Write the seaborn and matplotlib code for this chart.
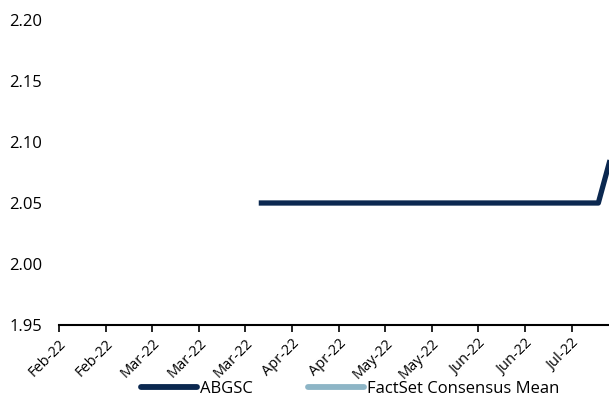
import matplotlib
matplotlib.use("Agg")
import matplotlib.pyplot as plt
import matplotlib.dates as mdates
import numpy as np
import pandas as pd
import seaborn as sns

# Estimate series (EPS, local currency)
abgsc_dates = ["2022-04-02", "2022-07-13", "2022-07-18"]
abgsc_values = [2.05, 2.05, 2.10]
factset_dates = ["2022-04-02", "2022-07-13"]
factset_values = [np.nan, np.nan]

y_ticks = [1.95, 2.00, 2.05, 2.10, 2.15, 2.20]
x_start = "2022-02-01"
x_end = "2022-07-16 05:00"

navy = "#0b2850"
light_blue = "#8db5c6"

sns.set_theme(style="white")
plt.rcParams["font.family"] = ["Open Sans", "DejaVu Sans"]
plt.rcParams["text.color"] = "black"
plt.rcParams["xtick.color"] = "black"
plt.rcParams["ytick.color"] = "black"

fig = plt.figure(figsize=(6.09, 3.97), dpi=100)
ax = fig.add_axes([59 / 609, 72 / 397, 1 - 59 / 609, (325 - 20) / 397])

abgsc = pd.DataFrame({"date": pd.to_datetime(abgsc_dates), "value": abgsc_values})
factset = pd.DataFrame({"date": pd.to_datetime(factset_dates), "value": factset_values})

sns.lineplot(data=abgsc, x="date", y="value", ax=ax, color=navy, linewidth=3.8,
             label="ABGSC", solid_capstyle="butt")
sns.lineplot(data=factset, x="date", y="value", ax=ax, color=light_blue, linewidth=3.8,
             label="FactSet Consensus Mean")

ax.set_xlim(pd.Timestamp(x_start), pd.Timestamp(x_end))
ax.set_ylim(y_ticks[0], y_ticks[-1])
ax.set_yticks(y_ticks)
ax.set_yticklabels([f"{v:.2f}" for v in y_ticks], fontsize=12)
ax.tick_params(axis="y", length=0, pad=12)

tick_dates = pd.date_range(x_start, periods=12, freq="14D")
ax.set_xticks(tick_dates)
ax.xaxis.set_major_formatter(mdates.DateFormatter("%b-%y"))
for lbl in ax.get_xticklabels():
    lbl.set_rotation(45)
    lbl.set_ha("right")
    lbl.set_rotation_mode("anchor")
    lbl.set_fontsize(10.5)
ax.tick_params(axis="x", direction="out", length=5, width=1.2, color="black", pad=3,
               bottom=True)

for side in ("left", "right", "top"):
    ax.spines[side].set_visible(False)
ax.spines["bottom"].set_color("black")
ax.spines["bottom"].set_linewidth(1.5)
ax.set_xlabel("")
ax.set_ylabel("")
ax.grid(False)

ax.get_legend().remove()
handles = [plt.Line2D([], [], color=navy, linewidth=4.2, solid_capstyle="round"),
           plt.Line2D([], [], color=light_blue, linewidth=4.2, solid_capstyle="round")]
fig.legend(handles, ["ABGSC", "FactSet Consensus Mean"], loc="center",
           bbox_to_anchor=(350 / 609, 8 / 397), ncol=2, frameon=False,
           fontsize=12, handlelength=3.4, handletextpad=0.15, columnspacing=3.3)

fig.savefig("out.png", dpi=100)
